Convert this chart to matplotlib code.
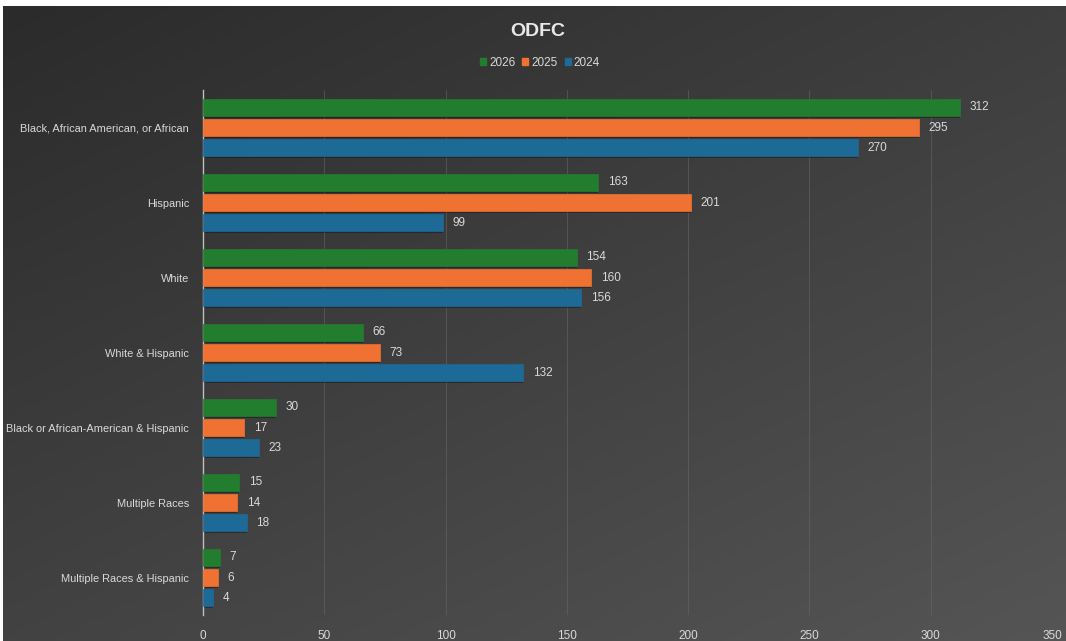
import numpy as np
import matplotlib
matplotlib.use("Agg")
import matplotlib.pyplot as plt

categories = ["Black, African American, or African", "Hispanic", "White",
              "White & Hispanic", "Black or African-American & Hispanic",
              "Multiple Races", "Multiple Races & Hispanic"]
v2026 = [312, 163, 154, 66, 30, 15, 7]
v2025 = [295, 201, 160, 73, 17, 14, 6]
v2024 = [270, 99, 156, 132, 23, 18, 4]
series = [("2026", v2026, "#237d2f"), ("2025", v2025, "#f07232"), ("2024", v2024, "#1e6a96")]
xticks = [0, 50, 100, 150, 200, 250, 300, 350]

plt.rcParams['font.family'] = ["Liberation Sans", "DejaVu Sans"]

W, H = 1066, 641
fig = plt.figure(figsize=(W/100, H/100), dpi=100, facecolor="white")

# background gradient
bg = fig.add_axes([3/W, 0, 1 - 3/W, 1 - 6/H])
xx, yy = np.meshgrid(np.linspace(0, 1, 200), np.linspace(0, 1, 200))
grad = 0.45*xx + 0.55*yy
c0 = np.array([0x2b, 0x2b, 0x2b]) / 255
c1 = np.array([0x55, 0x55, 0x55]) / 255
img = c0[None, None, :] + (c1 - c0)[None, None, :] * grad[:, :, None]
bg.imshow(img, aspect="auto", extent=[0, 1, 0, 1], origin="upper")
bg.axis("off")

ax = fig.add_axes([203/W, 1 - 615/H, (1052-203)/W, (615-90)/H])
ax.set_facecolor("none")
n = len(categories)
y = np.arange(n)
bh = 0.227
off = 0.267
txt = "#d9d9d9"
for k, (name, vals, col) in enumerate(series):
    pos = y + (k - 1) * off
    ax.barh(pos + 0.03, vals, height=bh, left=0, color="#111111", alpha=0.45, zorder=2)
    ax.barh(pos, vals, height=bh, color=col, zorder=3, label=name, edgecolor=col, linewidth=0.5)
    for p, v in zip(pos, vals):
        ax.text(v + 4, p, str(v), va="center", ha="left", color=txt, fontsize=8.5, zorder=4)

ax.set_ylim(n - 0.5, -0.5)
ax.set_xlim(0, 350)
ax.set_yticks(y)
ax.set_yticklabels(categories, color=txt, fontsize=7.9)
ax.set_xticks(xticks)
ax.set_xticklabels([str(t) for t in xticks], color=txt, fontsize=8.5)
ax.tick_params(axis="y", length=0, pad=10)
ax.tick_params(axis="x", length=0, pad=11)
for s in ["top", "right", "bottom"]:
    ax.spines[s].set_visible(False)
ax.spines["left"].set_color("#bfbfbf")
ax.spines["left"].set_linewidth(1.0)
ax.grid(axis="x", color="#6a6a6a", linewidth=0.6, alpha=0.6, zorder=0)
ax.set_axisbelow(True)

fig.text(538/W, 1 - 31/H, "ODFC", ha="center", va="center", color="#e8e8e8",
         fontsize=14, fontweight="bold")
leg = fig.legend(handles=[plt.Rectangle((0, 0), 1, 1, color=c) for _, _, c in series],
                 labels=[s[0] for s in series], loc="center", bbox_to_anchor=(540/W, 1 - 63/H),
                 ncol=3, frameon=False, fontsize=8.5, handlelength=0.5, handleheight=0.5,
                 handletextpad=0.25, columnspacing=0.6, labelcolor=txt)

fig.savefig("out.png", dpi=100, facecolor="white")
